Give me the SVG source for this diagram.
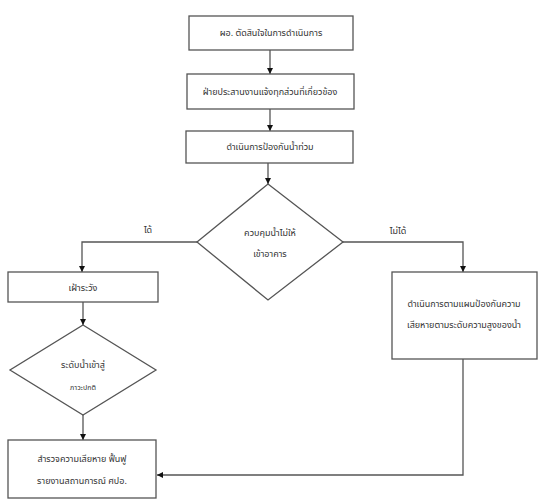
<svg xmlns="http://www.w3.org/2000/svg" width="555" height="502" viewBox="0 0 555 502">
<style>
.box{fill:#fff;stroke:#555;stroke-width:1.3}
.ln{fill:none;stroke:#555;stroke-width:1.3}
text{font-family:"Noto Sans Thai","Noto Sans","DejaVu Sans",sans-serif;font-size:9px;fill:#333;text-anchor:middle}
</style>
<defs>
<marker id="ah" viewBox="0 0 10 10" refX="10" refY="5" markerWidth="6" markerHeight="6" orient="auto-start-reverse" markerUnits="userSpaceOnUse">
<path d="M0,0L10,5L0,10z" fill="#111"/>
</marker>
</defs>
<rect width="555" height="502" fill="#fff"/>
<g id="connectors">
<line class="ln" x1="270" y1="50" x2="270" y2="74" marker-end="url(#ah)"/>
<line class="ln" x1="270" y1="109" x2="270" y2="131" marker-end="url(#ah)"/>
<line class="ln" x1="268" y1="163" x2="268" y2="184" marker-end="url(#ah)"/>
<polyline class="ln" points="197,242 82,242 82,272" marker-end="url(#ah)"/>
<polyline class="ln" points="343,242 463,242 463,272" marker-end="url(#ah)"/>
<line class="ln" x1="83" y1="302" x2="83" y2="325" marker-end="url(#ah)"/>
<line class="ln" x1="83" y1="415" x2="83" y2="440" marker-end="url(#ah)"/>
<polyline class="ln" points="463,359 463,475 157,475" marker-end="url(#ah)"/>
<text x="148" y="233">ได้</text>
<text x="398" y="234">ไม่ได้</text>
</g>
<g id="n1"><rect class="box" x="189" y="16" width="164" height="34"/><text x="271" y="36">ผอ. ตัดสินใจในการดำเนินการ</text></g>
<g id="n2"><rect class="box" x="187" y="74" width="167" height="35"/><text x="270" y="95">ฝ่ายประสานงานแจ้งทุกส่วนที่เกี่ยวข้อง</text></g>
<g id="n3"><rect class="box" x="186" y="131" width="167" height="32"/><text x="270" y="150">ดำเนินการป้องกันน้ำท่วม</text></g>
<g id="d1"><polygon class="box" points="268,184 343,242 268,300 197,242"/><text x="270" y="236">ควบคุมน้ำไม่ให้</text><text x="270" y="257">เข้าอาคาร</text></g>
<g id="n4"><rect class="box" x="8" y="272" width="150" height="30"/><text x="83" y="291">เฝ้าระวัง</text></g>
<g id="n5"><rect class="box" x="392" y="272" width="145" height="87"/><text x="464" y="307">ดำเนินการตามแผนป้องกันความ</text><text x="464" y="328">เสียหายตามระดับความสูงของน้ำ</text></g>
<g id="d2"><polygon class="box" points="83,325 156,370 83,415 10,370"/><text x="83" y="368">ระดับน้ำเข้าสู่</text><text x="83" y="390" style="font-size:7px">ภาวะปกติ</text></g>
<g id="n6"><rect class="box" x="8" y="440" width="148" height="58"/><text x="82" y="462">สำรวจความเสียหาย ฟื้นฟู</text><text x="82" y="484">รายงานสถานการณ์ ศปอ.</text></g>
</svg>
